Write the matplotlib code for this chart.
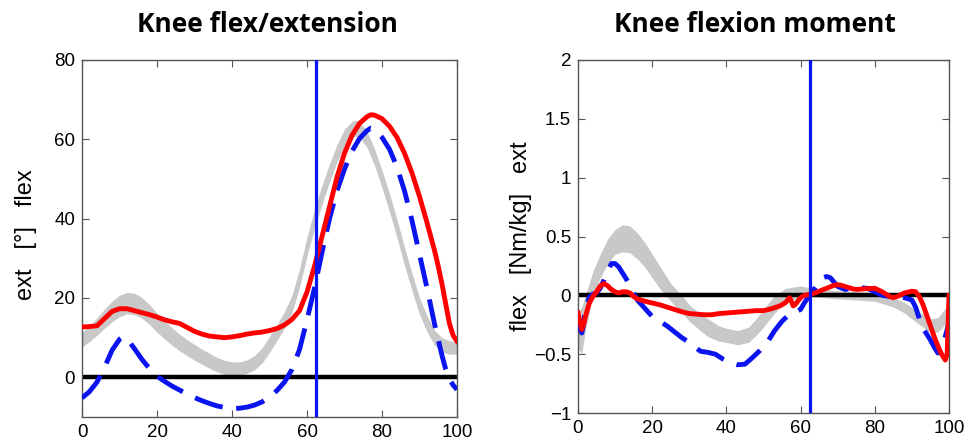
import numpy as np
import matplotlib
matplotlib.use("Agg")
import matplotlib.pyplot as plt

# ---------------- data ----------------
# Left: knee flexion/extension angle [deg]
ang_red_x = [0, 2, 4, 6, 8, 10, 12, 14, 16, 18, 20, 22, 24, 26, 28, 30, 32, 34, 36, 38, 40, 42, 44, 46, 48, 50,
             52, 54, 56, 58, 60, 62, 64, 66, 68, 70, 72, 74, 76, 77, 78, 80, 82, 84, 86, 88, 90, 92, 94, 95, 96, 97, 98, 99, 100]
ang_red_y = [12.7, 12.8, 13.0, 14.8, 16.6, 17.3, 17.3, 16.8, 16.3, 15.8, 15.2, 14.5, 14.0, 13.6, 12.6, 11.6, 10.9, 10.4, 10.2, 10.0, 10.2, 10.5, 10.9, 11.2, 11.4, 11.8,
             12.3, 13.2, 14.6, 16.8, 21.5, 28, 35.5, 43, 50.5, 56.5, 61, 64, 65.7, 66.2, 66.1, 65.2, 63.3, 60.5, 56.5, 51.5, 45.6, 39, 32, 28, 23.5, 18.5, 13.5, 10.5, 9.1]

ang_blue_x = [0, 2, 4, 6, 8, 10, 11, 12, 14, 16, 18, 20, 22, 24, 26, 28, 30, 32, 34, 36, 38, 40, 42, 44, 46, 48, 50,
              52, 54, 56, 58, 60, 62, 64, 66, 68, 70, 72, 74, 76, 77, 78, 80, 82, 84, 86, 88, 90, 92, 94, 96, 97, 98, 99, 100]
ang_blue_y = [-5.2, -3.6, -1.2, 2.5, 6.8, 9.6, 10.2, 9.8, 7.2, 4.5, 2.2, 0.3, -1.0, -2.2, -3.2, -4.2, -5.1, -5.9, -6.6, -7.2, -7.6, -7.8, -7.8, -7.5, -7.0, -6.2, -5.0,
              -3.3, -1.2, 2.0, 7, 14.5, 22.5, 31.5, 40, 47, 52.5, 57, 60.2, 62.2, 62.8, 62.6, 60.5, 57.5, 53, 47, 39.5, 31, 22.5, 13.5, 5.5, 2.0, -0.5, -2.0, -3.1]

ang_grey_x = [0, 2, 4, 6, 8, 10, 12, 14, 16, 18, 20, 22, 24, 26, 28, 30, 32, 34, 36, 38, 40, 42, 44, 46, 48, 50,
              52, 54, 56, 58, 60, 62, 64, 66, 68, 70, 72, 73, 74, 76, 78, 80, 82, 84, 86, 88, 90, 92, 94, 96, 98, 100]
ang_grey_mid = [9.5, 11, 12.8, 14.8, 16.6, 18, 18.7, 18.5, 17.5, 15.8, 13.8, 12, 10.3, 8.8, 7.5, 6.3, 5.2, 4.2, 3.2, 2.5, 2.2, 2.2, 2.7, 3.7, 5.5, 8.3,
                11.3, 14.5, 18.5, 25, 33, 40, 46, 51.5, 56.5, 60.5, 62.5, 62.8, 62.5, 60, 55.5, 50, 44, 37.5, 30.5, 24, 18, 13.5, 10, 8.2, 7.5, 7.4]
ang_grey_half = [1.8, 2.0, 2.2, 2.4, 2.6, 2.7, 2.7, 2.7, 2.6, 2.5, 2.4, 2.3, 2.2, 2.1, 2.0, 2.0, 1.9, 1.9, 1.8, 1.8, 1.7, 1.7, 1.7, 1.8, 1.9, 2.0,
                 2.0, 2.1, 2.2, 2.3, 2.4, 2.4, 2.4, 2.3, 2.2, 2.1, 2.0, 2.0, 2.0, 2.0, 2.1, 2.2, 2.3, 2.3, 2.3, 2.2, 2.1, 2.0, 1.9, 1.8, 1.7, 1.6]

# Right: knee flexion moment [Nm/kg]
mom_red_x = [0, 0.5, 1, 1.5, 2, 3, 4, 5, 6, 7, 8, 9, 10, 11, 12, 13, 14, 15, 16, 18, 20, 22, 24, 26, 28, 30, 32, 34, 36, 38, 40,
             42, 44, 46, 48, 50, 52, 54, 55, 56, 57, 57.5, 58, 58.5, 59, 60, 61, 62, 63, 65, 67, 69, 70, 71, 72, 74, 75, 77, 80,
             82, 84, 85, 86, 88, 90, 91, 92, 93, 94, 95, 96, 97, 98, 99, 99.5, 100]
mom_red_y = [-0.15, -0.22, -0.29, -0.25, -0.18, -0.07, -0.01, 0.03, 0.08, 0.1, 0.08, 0.05, 0.03, 0.02, 0.03, 0.03, 0.02, -0.01, -0.03, -0.05, -0.065, -0.08, -0.1, -0.12, -0.14, -0.155, -0.16, -0.165, -0.165, -0.155, -0.15,
             -0.145, -0.14, -0.135, -0.13, -0.13, -0.115, -0.095, -0.08, -0.06, -0.02, -0.05, -0.09, -0.08, -0.06, -0.02, 0.0, 0.005, 0.01, 0.035, 0.06, 0.085, 0.09, 0.085, 0.075, 0.055, 0.05, 0.055, 0.06,
             0.03, -0.01, -0.02, -0.01, 0.02, 0.035, 0.03, -0.01, -0.08, -0.17, -0.26, -0.35, -0.43, -0.5, -0.55, -0.5, 0.0]

mom_blue_x = [0, 1, 1.5, 2, 3, 4, 5, 6, 7, 8, 9, 10, 11, 12, 13, 14, 15, 16, 18, 20, 22, 24, 26, 28, 30, 32, 33, 35, 37, 39, 41,
              43, 45, 47, 49, 51, 53, 55, 57, 59, 60, 61, 62, 63, 64, 65, 66, 67, 68, 70, 72, 74, 76, 78, 80, 82, 84, 86, 88, 90,
              91, 92, 93, 95, 96, 97, 98, 99, 100]
mom_blue_y = [-0.23, -0.32, -0.25, -0.12, -0.02, 0.01, 0.02, 0.06, 0.13, 0.21, 0.27, 0.27, 0.24, 0.19, 0.14, 0.08, 0.02, -0.04, -0.11, -0.18, -0.22, -0.26, -0.31, -0.36, -0.40, -0.45, -0.475, -0.485, -0.5, -0.54, -0.57,
              -0.59, -0.585, -0.53, -0.47, -0.4, -0.3, -0.22, -0.16, -0.135, -0.12, -0.065, -0.02, 0.02, 0.07, 0.12, 0.15, 0.16, 0.15, 0.075, 0.05, 0.06, 0.065, 0.06, 0.03, 0.0, -0.01, -0.015, -0.02, -0.04,
              -0.1, -0.2, -0.28, -0.38, -0.44, -0.49, -0.44, -0.35, -0.23]

mom_grey_x = [0, 1, 2, 3, 4, 6, 8, 10, 12, 14, 16, 18, 20, 22, 25, 28, 30, 33, 35, 38, 40, 43, 46, 48, 50, 53, 56, 60, 63, 66, 70, 75, 80, 85, 88, 90, 93, 95, 97, 98, 100]
mom_grey_up = [-0.15, -0.1, 0.0, 0.1, 0.2, 0.35, 0.48, 0.56, 0.6, 0.59, 0.53, 0.45, 0.35, 0.25, 0.1, 0.0, -0.08, -0.16, -0.2, -0.26, -0.28, -0.3, -0.27, -0.2, -0.12, 0.0, 0.06, 0.08, 0.06, 0.05, 0.04, 0.03, 0.02, -0.02, -0.06, -0.1, -0.16, -0.2, -0.19, -0.15, -0.07]
mom_grey_lo = [-0.45, -0.5, -0.3, -0.15, 0.0, 0.15, 0.27, 0.35, 0.37, 0.36, 0.31, 0.24, 0.15, 0.06, -0.05, -0.15, -0.22, -0.3, -0.35, -0.39, -0.4, -0.42, -0.4, -0.34, -0.27, -0.15, -0.05, -0.02, -0.01, -0.02, -0.03, -0.04, -0.05, -0.1, -0.15, -0.2, -0.27, -0.32, -0.31, -0.28, -0.2]

toe_off = 62.5

x_ticks = [0, 20, 40, 60, 80, 100]
ang_yticks = [0, 20, 40, 60, 80]
mom_yticks = [-1, -0.5, 0, 0.5, 1, 1.5, 2]
mom_yticklabels = ["\u22121", "\u22120.5", "0", "0.5", "1", "1.5", "2"]

# ---------------- figure ----------------
fig = plt.figure(figsize=(9.7, 4.46), dpi=100)
fig.patch.set_facecolor("white")

tick_font = "Liberation Sans"
title_font = "Open Sans"
GREY = "#c8c8c8"
BLUE = "#0a14f0"
RED = "#ff0000"
LW = 3.5
DASH = (6, 2.8)

def style(ax):
    for s in ax.spines.values():
        s.set_color("#555555")
        s.set_linewidth(1.0)
    ax.tick_params(direction="in", top=True, right=True, length=5, width=0.8,
                   color="#555555", labelsize=13.5, pad=5)
    for lab in ax.get_xticklabels() + ax.get_yticklabels():
        lab.set_fontfamily(tick_font)

# Left
ax1 = fig.add_axes([82/970, (446-417)/446, 375/970, 357/446])
gx = np.array(ang_grey_x)
gm = np.array(ang_grey_mid)
gh = np.array(ang_grey_half)
ax1.fill_between(gx, gm - gh, gm + gh, color=GREY, lw=0, zorder=1)
ax1.axhline(0, color="black", lw=3.2, zorder=2)
ax1.plot(ang_blue_x, ang_blue_y, color=BLUE, lw=LW, dashes=DASH, zorder=3)
ax1.plot(ang_red_x, ang_red_y, color=RED, lw=LW, solid_joinstyle="round", zorder=4)
ax1.axvline(toe_off, color=BLUE, lw=2.3, zorder=5)
ax1.set_xlim(0, 100)
ax1.set_ylim(-10, 80)
ax1.set_xticks(x_ticks)
ax1.set_yticks(ang_yticks)
ax1.set_ylabel("ext   [\u00b0]   flex", fontsize=17, fontfamily=tick_font)
ax1.yaxis.set_label_coords(-0.12, 0.51)
style(ax1)
fig.text(267/970, 1 - 25/446, "Knee flex/extension", ha="center", va="center",
         fontsize=19, fontweight="bold", fontfamily=title_font)

# Right
ax2 = fig.add_axes([578/970, (446-413)/446, 371/970, 353/446])
ax2.fill_between(mom_grey_x, mom_grey_lo, mom_grey_up, color=GREY, lw=0, zorder=1)
ax2.axhline(0, color="black", lw=3.2, zorder=2)
ax2.plot(mom_blue_x, mom_blue_y, color=BLUE, lw=LW, dashes=DASH, zorder=3)
ax2.plot(mom_red_x, mom_red_y, color=RED, lw=LW, solid_joinstyle="round", zorder=4)
ax2.axvline(toe_off, color=BLUE, lw=2.3, zorder=5)
ax2.set_xlim(0, 100)
ax2.set_ylim(-1, 2)
ax2.set_xticks(x_ticks)
ax2.set_yticks(mom_yticks)
ax2.set_yticklabels(mom_yticklabels)
ax2.set_ylabel("flex   [Nm/kg]   ext", fontsize=17, fontfamily=tick_font)
ax2.yaxis.set_label_coords(-0.125, 0.5)
style(ax2)
fig.text(755/970, 1 - 25/446, "Knee flexion moment", ha="center", va="center",
         fontsize=19, fontweight="bold", fontfamily=title_font)

fig.savefig("out.png", dpi=100, facecolor="white")
